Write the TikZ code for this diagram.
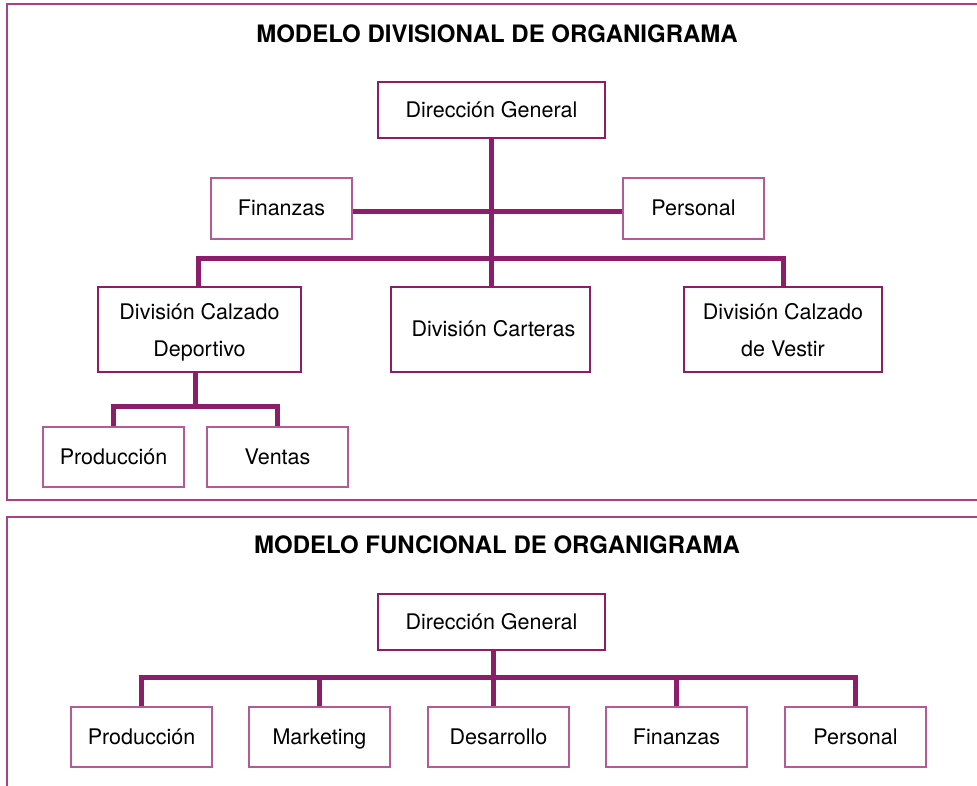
\documentclass[tikz,border=0pt]{standalone}
\usepackage{fontspec}
\setmainfont{TeX Gyre Heros}
\begin{document}
\definecolor{plum}{HTML}{8C1D6B}
\definecolor{rose}{HTML}{B45A98}
\definecolor{framec}{HTML}{A8408A}
\begin{tikzpicture}[x=1pt,y=-1pt,
  every node/.style={inner sep=0pt, font=\fontsize{21.5}{37}\selectfont, align=center},
  mainbox/.style={draw=plum, line width=2.8pt, fill=white},
  oneline/.style={text height=16.5pt, text depth=2.5pt},
  twoline/.style={text depth=-3.5pt},
  subbox/.style={draw=rose, line width=1.3pt, fill=white, minimum width=141pt, minimum height=60pt, oneline},
  link/.style={draw=plum, line width=5pt, line join=miter},
  frame/.style={draw=framec, line width=1.8pt},
  heading/.style={font=\fontsize{24}{29}\selectfont\bfseries}]
\useasboundingbox (0,0) rectangle (977,785);
\clip (0,0) rectangle (977,785);

% outer frames
\draw[frame] (7,4) rectangle (995,500);
\draw[frame] (7,517) rectangle (995,800);

% ---- divisional model ----
\node[heading] (t1) at (497,34) {MODELO DIVISIONAL DE ORGANIGRAMA};

\coordinate (bar1) at (491.5,258);
\coordinate (bar2) at (195.5,406);

\draw[link] (491.5,138) -- (491.5,287);
\draw[link] (352,211) -- (623,211);
\draw[link] (198,287) |- (bar1) -| (783,287);
\draw[link] (bar2 |- 0,372) -- (bar2);
\draw[link] (113.5,427) |- (bar2) -| (277.5,427);

\node[mainbox, oneline, minimum width=227pt, minimum height=56pt] (dg1) at (491.5,110) {Dirección General};
\node[subbox, minimum height=61pt] (fin1) at (281.5,208.5) {Finanzas};
\node[subbox, minimum height=61pt] (per1) at (693.5,208.5) {Personal};
\node[mainbox, twoline, minimum width=203pt, minimum height=85pt] (dcd) at (199.5,329.5) {División Calzado\\Deportivo};
\node[mainbox, oneline, minimum width=199pt, minimum height=85pt] (dca) at (490.5,329.5) {\hspace*{6pt}División Carteras};
\node[mainbox, twoline, minimum width=198pt, minimum height=85pt] (dcv) at (783,329.5) {División Calzado\\de Vestir};
\node[subbox] (prod1) at (113.5,457) {Producción};
\node[subbox] (ven1) at (277.5,457) {Ventas};

% ---- functional model ----
\node[heading] (t2) at (497,545) {MODELO FUNCIONAL DE ORGANIGRAMA};

\coordinate (bar3) at (493,677);
\draw[link] (493,650) -- (493,707);
\draw[link] (141.5,707) |- (bar3) -| (855.5,707);
\draw[link] (319.5,677) -- (319.5,707);
\draw[link] (676.5,677) -- (676.5,707);

\node[mainbox, oneline, minimum width=227pt, minimum height=56pt] (dg2) at (491.5,622) {Dirección General};
\node[subbox] (prod2) at (141.5,737) {Producción};
\node[subbox] (mkt) at (319.5,737) {Marketing};
\node[subbox] (des) at (498.5,737) {Desarrollo};
\node[subbox] (fin2) at (676.5,737) {Finanzas};
\node[subbox] (per2) at (855.5,737) {Personal};
\end{tikzpicture}
\end{document}
